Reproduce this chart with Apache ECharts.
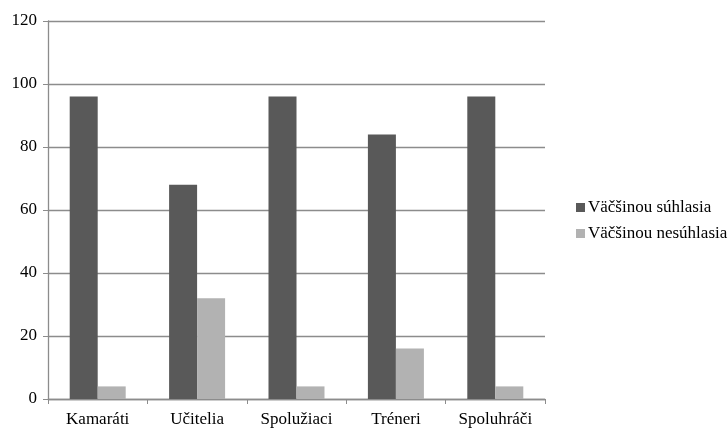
<!DOCTYPE html>
<html><head><meta charset="utf-8">
<script src="https://cdn.jsdelivr.net/npm/echarts@6/dist/echarts.min.js"></script>
<style>html,body{margin:0;padding:0;background:#fff}#c{width:728px;height:428px}</style>
</head><body><div id="c"></div>
<script>
const categories = ['Kamaráti', 'Učitelia', 'Spolužiaci', 'Tréneri', 'Spoluhráči'];
const agreeValues = [96, 68, 96, 84, 96];
const disagreeValues = [4, 32, 4, 16, 4];
const seriesNames = ['Väčšinou súhlasia', 'Väčšinou nesúhlasia'];
const yTicks = [0, 20, 40, 60, 80, 100, 120];

const font = 'Liberation Serif, Times New Roman, serif';
const chart = echarts.init(document.getElementById('c'));
chart.setOption({
  animation: false,
  textStyle: { fontFamily: font },
  grid: { left: 48, right: 183, top: 21, bottom: 29, containLabel: false },
  legend: {
    orient: 'vertical', left: 571, top: 194, itemGap: 9,
    icon: 'rect', itemWidth: 9, itemHeight: 9,
    textStyle: { fontFamily: font, fontSize: 17, color: '#000', padding: [0, 0, 0, -2] },
    data: seriesNames
  },
  xAxis: {
    type: 'category', data: categories,
    axisLine: { lineStyle: { color: '#8c8c8c', width: 1.3 } },
    axisTick: { show: true, length: 5, alignWithLabel: false, lineStyle: { color: '#8c8c8c' } },
    axisLabel: { color: '#000', fontSize: 17, fontFamily: font, margin: 12 }
  },
  yAxis: {
    type: 'value', min: yTicks[0], max: yTicks[yTicks.length - 1], interval: 20,
    axisLine: { show: true, lineStyle: { color: '#8c8c8c', width: 1.3 } },
    axisTick: { show: true, length: 5, lineStyle: { color: '#8c8c8c' } },
    splitLine: { lineStyle: { color: '#8c8c8c', width: 1.3 } },
    axisLabel: { color: '#000', fontSize: 17, fontFamily: font, margin: 11 }
  },
  series: [
    { name: seriesNames[0], type: 'bar', data: agreeValues, barWidth: 28, barGap: '0%',
      itemStyle: { color: '#595959' } },
    { name: seriesNames[1], type: 'bar', data: disagreeValues, barWidth: 28,
      itemStyle: { color: '#b2b2b2' } }
  ]
});
</script></body></html>
